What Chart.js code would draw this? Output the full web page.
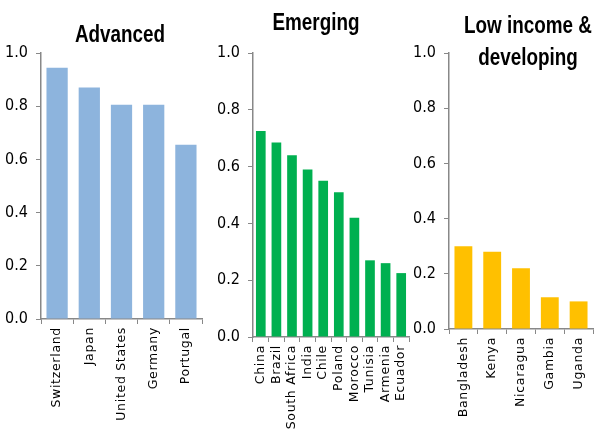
<!DOCTYPE html>
<html>
<head>
<meta charset="utf-8">
<script src="https://cdn.jsdelivr.net/npm/chart.js@4/dist/chart.umd.min.js"></script>
<style>
    body { margin: 0; background: #fff; width: 594px; height: 432px; position: relative; overflow: hidden; }
    canvas { position: absolute; top: 0; }
    .ttl { position: absolute; font-family: "Liberation Sans", Arial, sans-serif;
           font-weight: bold; font-size: 23px; line-height: 32px; text-align: center; color: #000;
           white-space: nowrap; width: 200px; transform: scaleX(0.82); transform-origin: 50% 0; }
</style>
</head>
<body>
<canvas id="c1" width="205" height="432" style="left:0px"></canvas>
<canvas id="c2" width="205" height="432" style="left:205px"></canvas>
<canvas id="c3" width="184" height="432" style="left:410px"></canvas>
<div class="ttl" style="left:20px; top:18px;">Advanced</div>
<div class="ttl" style="left:216px; top:6px;">Emerging</div>
<div class="ttl" style="left:428px; top:9px;">Low income &amp;<br>developing</div>
<script>
(function() {
    'use strict';

    // data
    var advLabels = ['Switzerland', 'Japan', 'United States', 'Germany', 'Portugal'];
    var advValues = [0.945, 0.87, 0.805, 0.805, 0.655];

    var emgLabels = ['China', 'Brazil', 'South Africa', 'India', 'Chile', 'Poland', 'Morocco', 'Tunisia', 'Armenia', 'Ecuador'];
    var emgValues = [0.725, 0.685, 0.64, 0.59, 0.55, 0.51, 0.42, 0.27, 0.26, 0.225];

    var lowLabels = ['Bangladesh', 'Kenya', 'Nicaragua', 'Gambia', 'Uganda'];
    var lowValues = [0.30, 0.28, 0.22, 0.115, 0.10];

    var yTicks = [0, 0.2, 0.4, 0.6, 0.8, 1.0];

    var axisColor = '#888888';

    // spaced out category labels, like the original
    var spacing = {
        id: 'spacing',
        afterUpdate: function(chart) {
            var sc = chart.scales.x;
            if (sc._spaced) return;
            var orig = sc.drawLabels.bind(sc);
            sc.drawLabels = function(area) {
                chart.ctx.save();
                chart.ctx.letterSpacing = '0.7px';
                orig(area);
                chart.ctx.restore();
            };
            sc._spaced = true;
        }
    };

    function panel(id, labels, values, color, yWidth, xHeight, padRight, barPct) {
        var ctx = document.getElementById(id);
        if (!ctx) return;

        new Chart(ctx, {
            type: 'bar',
            data: {
                labels: labels,
                datasets: [{
                    data: values,
                    backgroundColor: color,
                    borderWidth: 0,
                    barPercentage: barPct,
                    categoryPercentage: 1
                }]
            },
            plugins: [spacing],
            options: {
                responsive: false,
                animation: false,
                layout: { padding: { top: 53, right: padRight, left: 0, bottom: 0 } },
                plugins: { legend: { display: false }, tooltip: { enabled: false } },
                scales: {
                    x: {
                        offset: true,
                        grid: { display: true, offset: true, drawOnChartArea: false, tickLength: 5, color: axisColor, lineWidth: 1 },
                        border: { color: axisColor, width: 1.5 },
                        ticks: {
                            autoSkip: false, minRotation: 90, maxRotation: 90, padding: 3,
                            color: '#000', font: { family: 'DejaVu Sans', size: 12.5 }
                        },
                        afterFit: function(scale) {
                            scale.height = xHeight;
                            scale.paddingLeft = 0;
                            scale.paddingRight = 0;
                        }
                    },
                    y: {
                        min: 0,
                        max: 1,
                        afterBuildTicks: function(scale) {
                            scale.ticks = yTicks.map(function(v) { return { value: v }; });
                        },
                        grid: { display: true, drawOnChartArea: false, tickLength: 5, color: axisColor, lineWidth: 1 },
                        border: { color: axisColor, width: 1.5 },
                        ticks: {
                            padding: 8,
                            color: '#000',
                            font: { family: 'DejaVu Sans Condensed', size: 16 },
                            callback: function(v) { return Number(v).toFixed(1); }
                        },
                        afterFit: function(scale) {
                            scale.width = yWidth;
                            scale.paddingTop = 0;
                            scale.paddingBottom = 0;
                        }
                    }
                }
            }
        });
    }

    panel('c1', advLabels, advValues, '#8DB4DD', 41, 113, 3, 0.66);
    panel('c2', emgLabels, emgValues, '#00B050', 48, 95, 1, 0.62);
    panel('c3', lowLabels, lowValues, '#FFC000', 39, 103, 1, 0.62);
})();
</script>
</body>
</html>
